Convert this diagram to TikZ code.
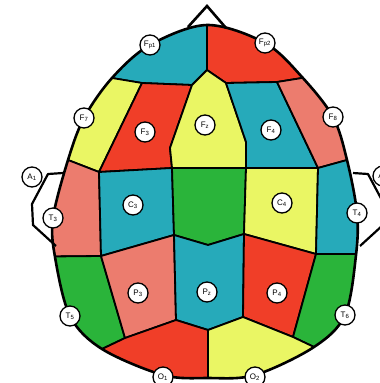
\documentclass[tikz,border=0pt]{standalone}
\usepackage{fontspec}
\setmainfont{Liberation Sans}
\definecolor{cblue}{RGB}{38,170,186}
\definecolor{cred}{RGB}{240,62,40}
\definecolor{cyel}{RGB}{234,246,100}
\definecolor{cgreen}{RGB}{42,180,58}
\definecolor{cpink}{RGB}{236,124,110}
\newcommand\headoutline{plot[smooth cycle, tension=0.55] coordinates {(207,25) (265,43) (302,77) (333,117) (347,160) (357,213) (356,255) (345,315) (314,347) (255,375) (208,378) (163,375) (102,349) (70,316) (55,257) (53,218) (68,160) (84,118) (112,78) (150,45)}}
\begin{document}
\begin{tikzpicture}[x=1pt,y=-1pt,
  region/.style={draw=black, line width=1.8pt, line join=round},
  headline/.style={draw=black, line width=2.6pt},
  elec/.style={circle, draw=black, fill=white, line width=1.3pt, minimum size=20pt, inner sep=0pt, font=\fontsize{8}{9}\selectfont}]
\useasboundingbox (0,0) rectangle (380,383);
\begin{scope}
\clip \headoutline;
% top row
\path[region, fill=cblue] (207,70) -- (192,85) -- (142,83) -- (112,78) -- (82,73) -- (82,0) -- (207,0) -- cycle;
\path[region, fill=cred] (207,0) -- (207,70) -- (226,83) -- (277,82) -- (302,78) -- (340,72) -- (340,0) -- cycle;
% frontal row
\path[region, fill=cyel] (142,83) -- (112,78) -- (82,73) -- (20,73) -- (20,140) -- (37,148) -- (99,172) -- cycle;
\path[region, fill=cred] (142,83) -- (192,85) -- (170,148) -- (172,168) -- (99,172) -- cycle;
\path[region, fill=cyel] (207,70) -- (226,83) -- (246,142) -- (246,168) -- (172,168) -- (170,148) -- (192,85) -- cycle;
\path[region, fill=cblue] (226,83) -- (277,82) -- (318,168) -- (246,168) -- (246,142) -- cycle;
\path[region, fill=cpink] (277,82) -- (302,78) -- (340,72) -- (400,72) -- (400,150) -- (376,152) -- (318,168) -- cycle;
% central row
\path[region, fill=cpink] (37,148) -- (99,172) -- (101,256) -- (0,257) -- (0,140) -- cycle;
\path[region, fill=cblue] (99,172) -- (172,168) -- (174,235) -- (101,256) -- cycle;
\path[region, fill=cgreen] (172,168) -- (246,168) -- (244,234) -- (208,245) -- (174,235) -- cycle;
\path[region, fill=cyel] (246,168) -- (318,168) -- (316,254) -- (244,234) -- cycle;
\path[region, fill=cblue] (318,168) -- (376,152) -- (420,150) -- (420,254) -- (316,254) -- cycle;
% parietal row
\path[region, fill=cgreen] (0,257) -- (101,256) -- (125,338) -- (102,349) -- (60,369) -- (0,369) -- cycle;
\path[region, fill=cpink] (101,256) -- (174,235) -- (176,320) -- (125,338) -- cycle;
\path[region, fill=cblue] (174,235) -- (208,245) -- (244,234) -- (243,317) -- (208,330) -- (176,320) -- cycle;
\path[region, fill=cred] (244,234) -- (316,254) -- (293,337) -- (243,317) -- cycle;
\path[region, fill=cgreen] (316,254) -- (420,254) -- (420,370) -- (356,367) -- (314,347) -- (293,337) -- cycle;
% occipital row
\path[region, fill=cred] (60,369) -- (102,349) -- (125,338) -- (176,320) -- (208,330) -- (208,400) -- (60,400) -- cycle;
\path[region, fill=cyel] (208,330) -- (243,317) -- (293,337) -- (356,367) -- (356,400) -- (208,400) -- cycle;
\end{scope}
\path[headline] \headoutline;
% nose and ears
\draw[headline, line join=miter] (188,27) -- (207,6) -- (226,28);
\draw[line width=2.2pt, line join=round] (63,173) -- (48,174) -- (32,204) -- (33,225) -- (56,246);
\draw[line width=2.2pt, line join=round] (353,173) -- (368,174) -- (384,204) -- (383,225) -- (360,246);
% electrodes
\node[elec] (A1) at (32,177) {A\textsubscript{1}};
\node[elec] (A2) at (383,176) {A\textsubscript{2}};
\node[elec] (Fp1) at (150,45) {F\textsubscript{p1}};
\node[elec] (Fp2) at (265,43) {F\textsubscript{p2}};
\node[elec] (F7) at (84,118) {F\textsubscript{7}};
\node[elec] (F3) at (145,132) {F\textsubscript{3}};
\node[elec] (Fz) at (205,125) {F\textsubscript{z}};
\node[elec] (F4) at (271,130) {F\textsubscript{4}};
\node[elec] (F8) at (333,117) {F\textsubscript{8}};
\node[elec] (T3) at (53,218) {T\textsubscript{3}};
\node[elec] (C3) at (133,205) {C\textsubscript{3}};
\node[elec] (C4) at (282,203) {C\textsubscript{4}};
\node[elec] (T4) at (357,213) {T\textsubscript{4}};
\node[elec] (P3) at (138,293) {P\textsubscript{3}};
\node[elec] (Pz) at (207,292) {P\textsubscript{z}};
\node[elec] (P4) at (277,293) {P\textsubscript{4}};
\node[elec] (T5) at (70,316) {T\textsubscript{5}};
\node[elec] (T6) at (345,315) {T\textsubscript{6}};
\node[elec] (O1) at (163,377) {O\textsubscript{1}};
\node[elec] (O2) at (255,377) {O\textsubscript{2}};
\end{tikzpicture}
\end{document}
